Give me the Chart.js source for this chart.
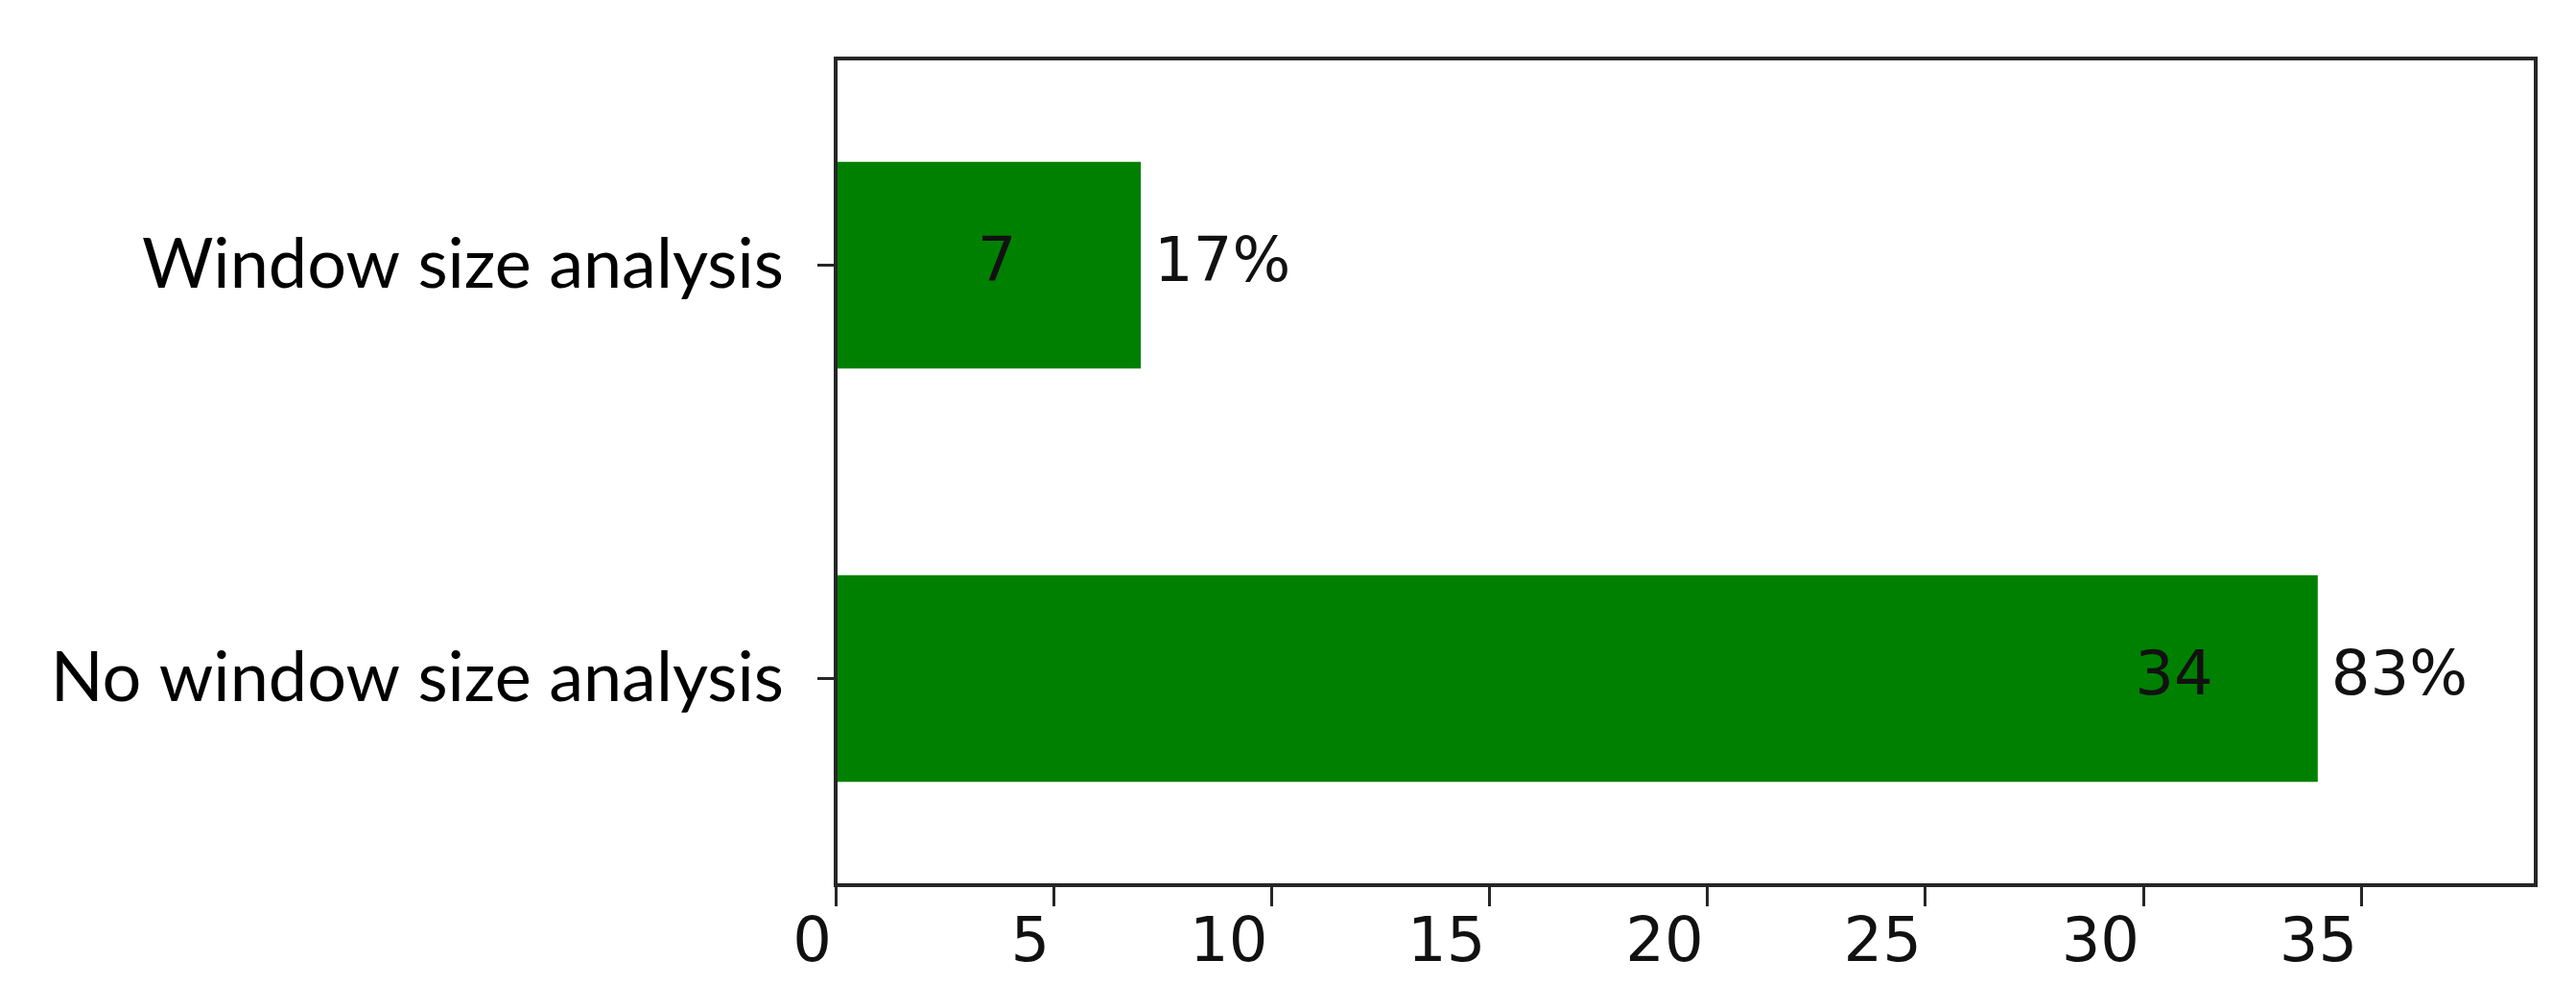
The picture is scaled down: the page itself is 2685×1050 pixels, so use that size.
<!DOCTYPE html>
<html><head><meta charset="utf-8">
<script src="https://cdn.jsdelivr.net/npm/chart.js@4/dist/chart.umd.min.js"></script>
<style>html,body{margin:0;padding:0;background:#fff;overflow:hidden;} #wrap{width:2685px;height:1050px;}</style>
</head><body><div id="wrap"><canvas id="c" width="2685" height="1050"></canvas></div>
<script>
// ---- data ----
const categories = ["Window size analysis", "No window size analysis"];
const counts = [7, 34];
const percentLabels = ["17%", "83%"];
const xTicks = [0, 5, 10, 15, 20, 25, 30, 35];
const xMin = 0;
const xMax = 39;

// ---- styles ----
const BAR_COLOR = '#008000';
const AXIS_COLOR = '#262626';
const TICK_FONT = 'DejaVu Sans';
const CAT_FONT = 'Lato';
const INNER_SHIFT = 3.3; // inner count label sits this many units left of bar end

const frame = {
  id: 'frame',
  afterDatasetsDraw(chart) {
    const {ctx, chartArea: a, scales} = chart;
    ctx.save();
    ctx.strokeStyle = AXIS_COLOR;
    ctx.lineWidth = 4;
    ctx.strokeRect(a.left, a.top, a.right - a.left, a.bottom - a.top);
    const meta = chart.getDatasetMeta(0);
    ctx.fillStyle = '#111';
    ctx.font = '64px "' + TICK_FONT + '"';
    ctx.textBaseline = 'middle';
    meta.data.forEach((bar, i) => {
      const y = bar.y;
      ctx.textAlign = 'center';
      ctx.fillText(String(counts[i]), scales.x.getPixelForValue(counts[i] - INNER_SHIFT), y);
      ctx.textAlign = 'left';
      ctx.fillText(percentLabels[i], bar.x + 14, y);
    });
    ctx.restore();
  }
};

new Chart(document.getElementById('c'), {
  type: 'bar',
  data: {
    labels: categories,
    datasets: [{
      data: counts,
      backgroundColor: BAR_COLOR,
      borderWidth: 0,
      barPercentage: 0.5,
      categoryPercentage: 1.0
    }]
  },
  options: {
    indexAxis: 'y',
    responsive: false,
    devicePixelRatio: 1,
    animation: false,
    layout: { padding: { left: 0, top: 61, right: 42, bottom: 0 } },
    plugins: { legend: { display: false }, tooltip: { enabled: false } },
    scales: {
      x: {
        type: 'linear',
        min: xMin,
        max: xMax,
        afterBuildTicks: (s) => { s.ticks = xTicks.map(v => ({ value: v })); },
        afterFit: (s) => { s.height = 127; s.paddingLeft = 0; s.paddingRight = 0; },
        border: { display: false },
        grid: { drawOnChartArea: false, drawTicks: true, tickLength: 22, tickColor: AXIS_COLOR, tickWidth: 3 },
        ticks: {
          autoSkip: false,
          maxRotation: 0,
          align: 'end',
          labelOffset: -4,
          padding: 2,
          color: '#111',
          font: { family: TICK_FONT, size: 64 }
        }
      },
      y: {
        afterFit: (s) => { s.width = 871; s.paddingTop = 0; s.paddingBottom = 0; },
        border: { display: false },
        grid: { offset: false, drawOnChartArea: false, drawTicks: true, tickLength: 19, tickColor: AXIS_COLOR, tickWidth: 3 },
        ticks: {
          padding: 35,
          color: '#000',
          font: { family: CAT_FONT, size: 72 }
        }
      }
    }
  },
  plugins: [frame]
});
</script>
</body></html>
